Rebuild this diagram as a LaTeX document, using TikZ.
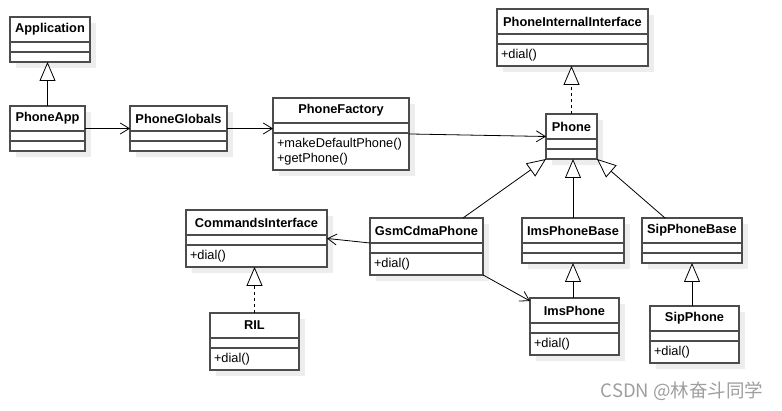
\documentclass[tikz,border=0pt]{standalone}
\usepackage{fontspec}
\setmainfont{Liberation Sans}
\newfontfamily\cjk{Noto Sans CJK SC}
\usetikzlibrary{arrows.meta,shadows,fit}

\tikzset{
	part/.style={draw=black!70, line width=1.2pt, fill=white, inner sep=0pt, outer sep=0pt, font=\fontsize{12.8}{15}\selectfont, drop shadow={shadow xshift=6pt, shadow yshift=-6pt, fill=black!7, opacity=1}},
	clsname/.style={part, font=\fontsize{12.8}{15}\selectfont\bfseries, minimum height=25pt, anchor=north west},
	clsattr/.style={part, minimum height=10pt, anchor=north},
	clsops/.style={part, align=left, inner xsep=4pt, inner ysep=5pt, anchor=north},
	clsbox/.style={inner sep=0pt, outer sep=0pt},
	assoc/.style={-{Straight Barb[length=9pt,width=11pt]}, line width=0.8pt},
	gen/.style={-{Triangle[open,length=19pt,width=16pt,fill=white]}, line width=0.8pt},
	real/.style={gen, dash pattern=on 3pt off 3pt},
	watermark/.style={font=\cjk\fontsize{18.5}{21}\selectfont, text=black!38}
}

\begin{document}
\begin{tikzpicture}[x=1pt, y=-1pt]
				\useasboundingbox (0, 0) rectangle (782, 411);

				\node[clsname, minimum width=80pt] (app-n) at (10, 17) {Application};
				\node[clsattr, minimum width=80pt] (app-a) at (app-n.south) {};
				\node[clsops, text width=72pt] (app-o) at (app-a.south) {};
				\node[clsbox, fit=(app-n)(app-o)] (app) {};

				\node[clsname, minimum width=75pt] (phoneapp-n) at (10, 106) {PhoneApp};
				\node[clsattr, minimum width=75pt] (phoneapp-a) at (phoneapp-n.south) {};
				\node[clsops, text width=67pt] (phoneapp-o) at (phoneapp-a.south) {};
				\node[clsbox, fit=(phoneapp-n)(phoneapp-o)] (phoneapp) {};

				\node[clsname, minimum width=97pt] (globals-n) at (130, 106) {PhoneGlobals};
				\node[clsattr, minimum width=97pt] (globals-a) at (globals-n.south) {};
				\node[clsops, text width=89pt] (globals-o) at (globals-a.south) {};
				\node[clsbox, fit=(globals-n)(globals-o)] (globals) {};

				\node[clsname, minimum width=136pt] (factory-n) at (273, 98) {PhoneFactory};
				\node[clsattr, minimum width=136pt] (factory-a) at (factory-n.south) {};
				\node[clsops, text width=128pt] (factory-o) at (factory-a.south) {+makeDefaultPhone()\\+getPhone()};
				\node[clsbox, fit=(factory-n)(factory-o)] (factory) {};

				\node[clsname, minimum width=151pt] (pii-n) at (497, 9) {PhoneInternalInterface};
				\node[clsattr, minimum width=151pt] (pii-a) at (pii-n.south) {};
				\node[clsops, text width=143pt] (pii-o) at (pii-a.south) {+dial()};
				\node[clsbox, fit=(pii-n)(pii-o)] (pii) {};

				\node[clsname, minimum width=51pt] (phone-n) at (546, 114) {Phone};
				\node[clsattr, minimum width=51pt] (phone-a) at (phone-n.south) {};
				\node[clsops, text width=43pt] (phone-o) at (phone-a.south) {};
				\node[clsbox, fit=(phone-n)(phone-o)] (phone) {};

				\node[clsname, minimum width=141pt] (cmdif-n) at (186, 210) {CommandsInterface};
				\node[clsattr, minimum width=141pt] (cmdif-a) at (cmdif-n.south) {};
				\node[clsops, text width=133pt] (cmdif-o) at (cmdif-a.south) {+dial()};
				\node[clsbox, fit=(cmdif-n)(cmdif-o)] (cmdif) {};

				\node[clsname, minimum width=113pt] (gsm-n) at (370, 218) {GsmCdmaPhone};
				\node[clsattr, minimum width=113pt] (gsm-a) at (gsm-n.south) {};
				\node[clsops, text width=105pt] (gsm-o) at (gsm-a.south) {+dial()};
				\node[clsbox, fit=(gsm-n)(gsm-o)] (gsm) {};

				\node[clsname, minimum width=89pt] (ril-n) at (210, 313) {RIL};
				\node[clsattr, minimum width=89pt] (ril-a) at (ril-n.south) {};
				\node[clsops, text width=81pt] (ril-o) at (ril-a.south) {+dial()};
				\node[clsbox, fit=(ril-n)(ril-o)] (ril) {};

				\node[clsname, minimum width=102pt] (imsbase-n) at (522, 218) {ImsPhoneBase};
				\node[clsattr, minimum width=102pt] (imsbase-a) at (imsbase-n.south) {};
				\node[clsops, text width=94pt] (imsbase-o) at (imsbase-a.south) {};
				\node[clsbox, fit=(imsbase-n)(imsbase-o)] (imsbase) {};

				\node[clsname, minimum width=100pt] (sipbase-n) at (642, 218) {SipPhoneBase};
				\node[clsattr, minimum width=100pt] (sipbase-a) at (sipbase-n.south) {};
				\node[clsops, text width=92pt] (sipbase-o) at (sipbase-a.south) {};
				\node[clsbox, fit=(sipbase-n)(sipbase-o)] (sipbase) {};

				\node[clsname, minimum width=89pt] (ims-n) at (530, 298) {ImsPhone};
				\node[clsattr, minimum width=89pt] (ims-a) at (ims-n.south) {};
				\node[clsops, text width=81pt] (ims-o) at (ims-a.south) {+dial()};
				\node[clsbox, fit=(ims-n)(ims-o)] (ims) {};

				\node[clsname, minimum width=89pt] (sip-n) at (650, 306) {SipPhone};
				\node[clsattr, minimum width=89pt] (sip-a) at (sip-n.south) {};
				\node[clsops, text width=81pt] (sip-o) at (sip-a.south) {+dial()};
				\node[clsbox, fit=(sip-n)(sip-o)] (sip) {};

				\draw[gen] (phoneapp.north) -- (phoneapp.north |- app.south);
				\draw[assoc] (phoneapp.east) -- (globals.west);
				\draw[assoc] (globals.east) -- (globals.east -| factory.west);
				\draw[assoc] (factory.east) -- (phone.west);
				\draw[real] (phone.north) -- (phone.north |- pii.south);
				\draw[gen] ([xshift=-20pt]gsm.north east) -- (phone.south west);
				\draw[gen] (imsbase.north) -- (imsbase.north |- phone.south);
				\draw[gen] ([xshift=23pt]sipbase.north west) -- (phone.south east);
				\draw[assoc] (gsm-n.south west) -- (cmdif.east);
				\draw[assoc] (gsm.south east) -- ([yshift=-3pt]ims.north west);
				\draw[real] (ril.north) -- (ril.north |- cmdif.south);
				\draw[gen] (imsbase.south |- ims.north) -- (imsbase.south);
				\draw[gen] (sipbase.south |- sip.north) -- (sipbase.south);

				\node[watermark] (mark) at (682, 391) {CSDN @林奋斗同学};
\end{tikzpicture}
\end{document}
